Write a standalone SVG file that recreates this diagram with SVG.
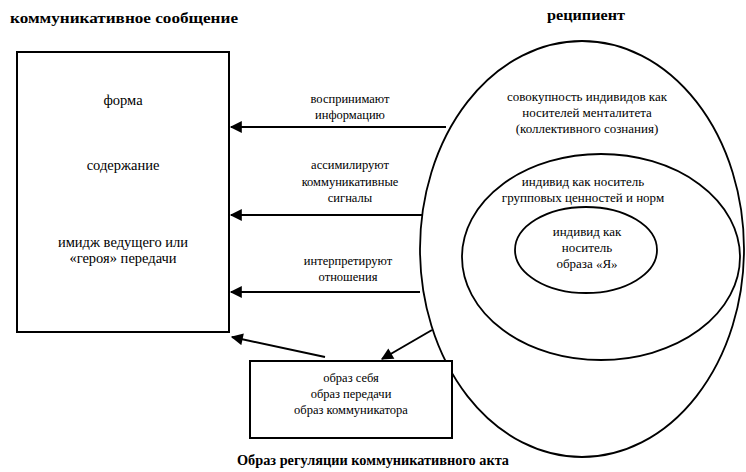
<svg xmlns="http://www.w3.org/2000/svg" width="746" height="472" viewBox="0 0 746 472">
<style>
.t{font-family:"Liberation Serif","Times New Roman",serif;fill:#000;text-anchor:middle}
.s12{font-size:12.5px}
.s13{font-size:13px}
.s14{font-size:14.5px}
.h{font-family:"Liberation Serif","Times New Roman",serif;font-weight:bold;font-size:14px;fill:#000}
.box{fill:#fff;stroke:#000;stroke-width:2}
.ell{fill:none;stroke:#000;stroke-width:1.8}
.conn{fill:none;stroke:#000;stroke-width:2}
</style>
<defs>
<marker id="ah" viewBox="0 0 10 10" refX="9" refY="5" markerWidth="7" markerHeight="6" orient="auto" markerUnits="strokeWidth">
<path d="M0,0 L10,5 L0,10 z" fill="#000"/>
</marker>
</defs>
<rect width="746" height="472" fill="#fff"/>
<text class="h" x="10" y="23" textLength="228" lengthAdjust="spacingAndGlyphs">коммуникативное сообщение</text>
<text class="h" x="547" y="20" textLength="78" lengthAdjust="spacingAndGlyphs">реципиент</text>
<text class="h" x="237" y="465" textLength="272" lengthAdjust="spacingAndGlyphs">Образ регуляции коммуникативного акта</text>

<g id="message">
<rect class="box" x="17" y="52" width="212" height="280"/>
<text class="t s14" x="123" y="105">форма</text>
<text class="t s14" x="123" y="170">содержание</text>
<text class="t s14" x="123" y="247">имидж ведущего или</text>
<text class="t s14" x="123" y="263">«героя» передачи</text>
</g>

<g id="recipient">
<ellipse class="ell" cx="582" cy="249" rx="162" ry="208"/>
<text class="t s13" x="587" y="101">совокупность индивидов как</text>
<text class="t s13" x="587" y="117">носителей менталитета</text>
<text class="t s13" x="587" y="133">(коллективного сознания)</text>
</g>
<g id="group">
<ellipse class="ell" cx="601" cy="257" rx="139" ry="103"/>
<text class="t s13" x="583" y="186">индивид как носитель</text>
<text class="t s13" x="583" y="202">групповых ценностей и норм</text>
</g>
<g id="self">
<ellipse class="ell" cx="586" cy="250" rx="71" ry="43"/>
<text class="t s13" x="587" y="236">индивид как</text>
<text class="t s13" x="587" y="252">носитель</text>
<text class="t s13" x="587" y="268">образа «Я»</text>
</g>

<g id="images">
<rect class="box" x="250" y="361" width="202" height="77"/>
<text class="t s12" x="351" y="382">образ себя</text>
<text class="t s12" x="351" y="398">образ передачи</text>
<text class="t s12" x="351" y="414">образ коммуникатора</text>
</g>

<g id="connectors">
<line class="conn" x1="446" y1="127" x2="231" y2="127" marker-end="url(#ah)"/>
<line class="conn" x1="422" y1="215" x2="231" y2="215" marker-end="url(#ah)"/>
<line class="conn" x1="420" y1="292" x2="231" y2="292" marker-end="url(#ah)"/>
<line class="conn" x1="325" y1="357" x2="232" y2="337" marker-end="url(#ah)"/>
<line class="conn" x1="432" y1="330" x2="382" y2="359" marker-end="url(#ah)"/>
<text class="t s12" x="350" y="103">воспринимают</text>
<text class="t s12" x="350" y="119">информацию</text>
<text class="t s12" x="350" y="169">ассимилируют</text>
<text class="t s12" x="350" y="186">коммуникативные</text>
<text class="t s12" x="350" y="202">сигналы</text>
<text class="t s12" x="348" y="265">интерпретируют</text>
<text class="t s12" x="348" y="281">отношения</text>
</g>
</svg>
